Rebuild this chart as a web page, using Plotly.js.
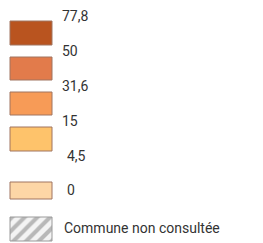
<!DOCTYPE html>
<html>
<head>
<meta charset="utf-8">
<script src="https://cdn.plot.ly/plotly-3.0.1.min.js"></script>
<style>html,body{margin:0;padding:0;background:#fff;}#chart{width:263px;height:243px;}</style>
</head>
<body>
<div id="chart"></div>
<script>
// Class break values (top to bottom) and class fills
const breakLabels = ['77,8', '50', '31,6', '15', '4,5', '0'];
const classNames = ['50 – 77,8', '31,6 – 50', '15 – 31,6', '4,5 – 15', '0'];
const classColors = ['#b9541f', '#e27b4b', '#f79b57', '#fec36b', '#fdd6a6'];
const noDataLabel = 'Commune non consultée';

// Layout (pixel space of the legend)
const boxTop = [21, 57, 92, 127, 182, 217];
const boxH = [24, 23, 23, 24, 17, 24];
const labelY = [17, 52, 87, 122, 157, 191];
const labelX = [62, 62, 62, 62, 67, 67];
const boxCx = 31, boxW = 42;

const traces = [];
// colored class boxes
traces.push({
  type: 'bar',
  x: classNames.map(() => boxCx),
  base: classNames.map((_, i) => boxTop[i]),
  y: classNames.map((_, i) => boxH[i]),
  width: classNames.map(() => boxW),
  marker: {color: classColors, line: {color: '#a07560', width: 1}},
  text: classNames, hoverinfo: 'text', textposition: 'none',
  showlegend: false
});
// hatched "no data" box
traces.push({
  type: 'bar',
  x: [boxCx], base: [boxTop[5]], y: [boxH[5]], width: [boxW],
  marker: {color: '#f2f2f2', line: {color: '#9a9a9a', width: 1},
    pattern: {shape: '/', fgcolor: '#b8b8b8', bgcolor: '#f4f4f4', size: 9, solidity: 0.45}},
  text: [noDataLabel], hoverinfo: 'text', textposition: 'none',
  showlegend: false
});
// break labels
traces.push({
  type: 'scatter', mode: 'text',
  x: labelX, y: labelY, text: breakLabels,
  textposition: 'middle right',
  textfont: {family: 'Roboto, Arial, sans-serif', size: 14, color: '#333'},
  hoverinfo: 'none', showlegend: false
});
traces.push({
  type: 'scatter', mode: 'text',
  x: [64], y: [229], text: [noDataLabel],
  textposition: 'middle right',
  textfont: {family: 'Roboto, Arial, sans-serif', size: 14, color: '#333'},
  hoverinfo: 'none', showlegend: false
});

const layout = {
  width: 263, height: 243,
  margin: {l: 0, r: 0, t: 0, b: 0},
  paper_bgcolor: '#fff', plot_bgcolor: '#fff',
  barmode: 'overlay',
  xaxis: {range: [0, 263], visible: false, fixedrange: true},
  yaxis: {range: [243, 0], visible: false, fixedrange: true},
  showlegend: false
};
Plotly.newPlot('chart', traces, layout, {displayModeBar: false, staticPlot: true});
</script>
</body>
</html>
